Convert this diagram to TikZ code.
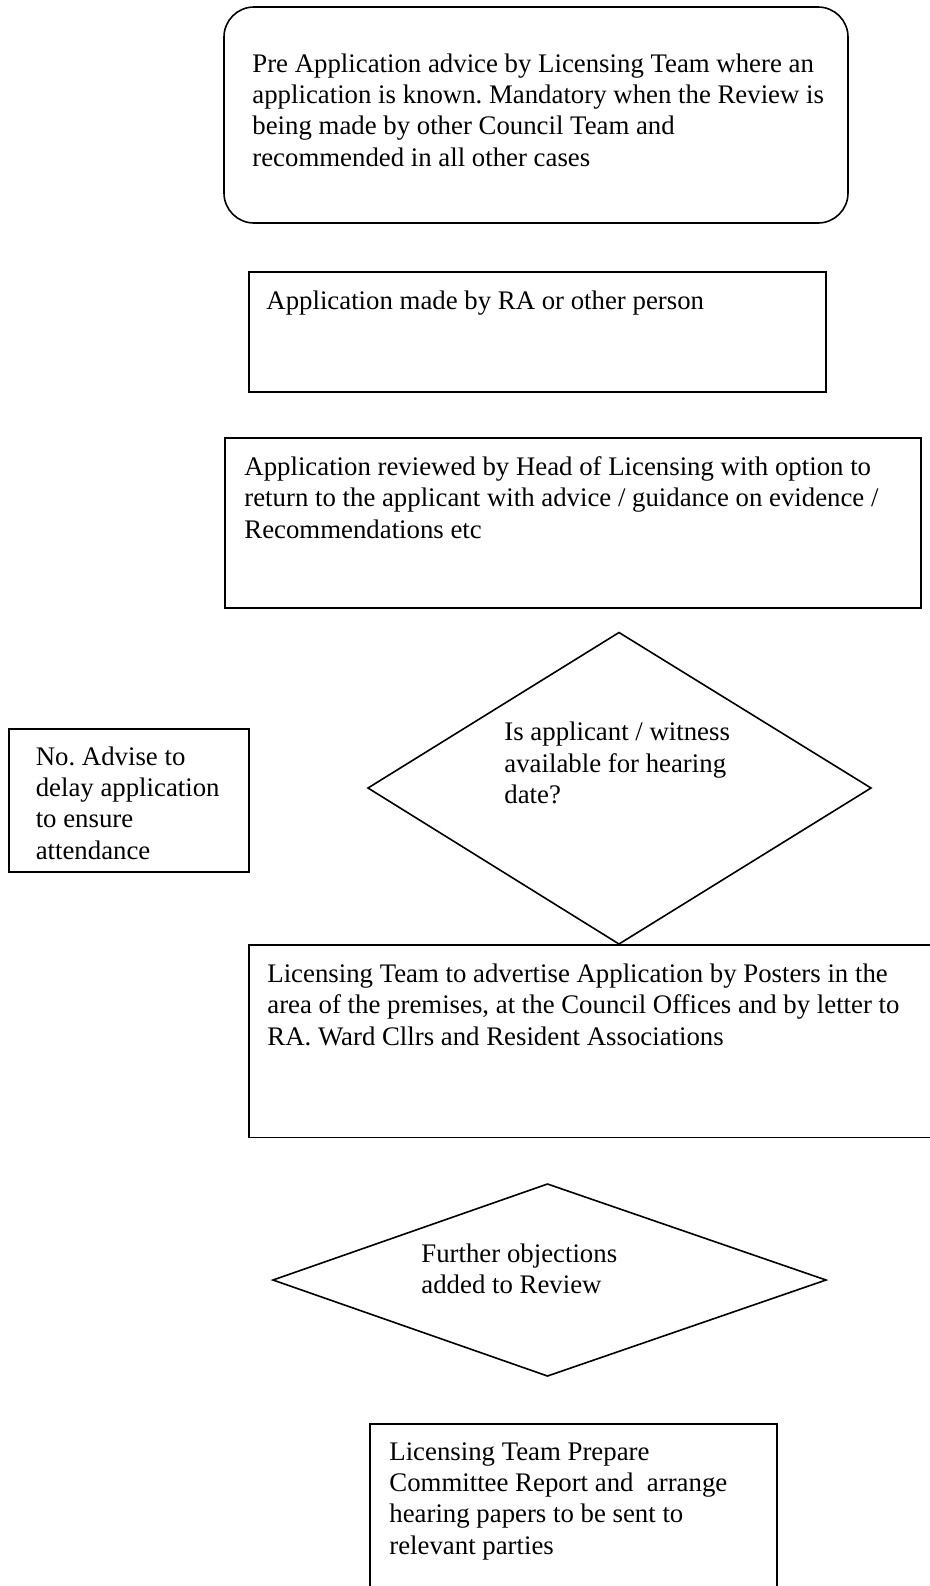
\documentclass[tikz,border=0pt]{standalone}
\usepackage{fontspec}
\setmainfont{Liberation Serif}
\frenchspacing
\begin{document}
\begin{tikzpicture}[x=0.5pt,y=-0.5pt,
  shape line/.style={draw=black,line width=0.8pt},
  boxnode/.style={shape line,draw,inner sep=0,anchor=north west},
  txt/.style={anchor=north west,inner sep=0pt,align=left,font=\fontsize{13.4pt}{15.7pt}\selectfont}]
\useasboundingbox (0,0) rectangle (930,1586);
\begin{scope}
\clip (0,0) rectangle (930,1586);
% shapes
\draw[shape line,rounded corners=15pt] (224,7) rectangle (848,223);
\node[boxnode,minimum width=288.5pt,minimum height=60pt] (b2) at (248,271) {};
\node[boxnode,minimum width=348pt,minimum height=85pt] (b3) at (224,437) {};
\coordinate (d1t) at (619,632.5);
\coordinate (d1l) at (368,788);
\coordinate (d1r) at (871,788);
\coordinate (d1b) at (619,944);
\draw[shape line] (d1t) -- (d1r) -- (d1b) -- (d1l) -- cycle;
\node[boxnode,minimum width=120pt,minimum height=71.5pt] (no) at (8,728) {};
\node[boxnode,minimum width=360pt,minimum height=96.25pt] (b4) at (248,944) {};
\coordinate (d2t) at (547.5,1184);
\coordinate (d2l) at (273,1280);
\coordinate (d2r) at (826,1280);
\coordinate (d2b) at (547.5,1376);
\draw[shape line] (d2t) -- (d2r) -- (d2b) -- (d2l) -- cycle;
\node[boxnode,minimum width=203.5pt,minimum height=100pt] (b5) at (369,1423) {};
\end{scope}
% texts
\node[txt] (t1) at (252,53) {Pre Application advice by Licensing Team where an\\application is known. Mandatory when the Review is\\being made by other Council Team and\\recommended in all other cases};
\node[txt] (t2) at (266,290) {Application made by RA or other person};
\node[txt] (t3) at (244,456) {Application reviewed by Head of Licensing with option to\\return to the applicant with advice / guidance on evidence /\\Recommendations etc};
\node[txt] (t4) at (504,721.6) {Is applicant / witness\\available for hearing\\date?};
\node[txt] (t5) at (35.4,746) {No. Advise to\\delay application\\to ensure\\attendance};
\node[txt] (t6) at (267,963.5) {Licensing Team to advertise Application by Posters in the\\area of the premises, at the Council Offices and by letter to\\RA. Ward Cllrs and Resident Associations};
\node[txt] (t7) at (421,1243) {Further objections\\added to Review};
\node[txt] (t8) at (389,1442) {Licensing Team Prepare\\Committee Report and~ arrange\\hearing papers to be sent to\\relevant parties};
\end{tikzpicture}
\end{document}
